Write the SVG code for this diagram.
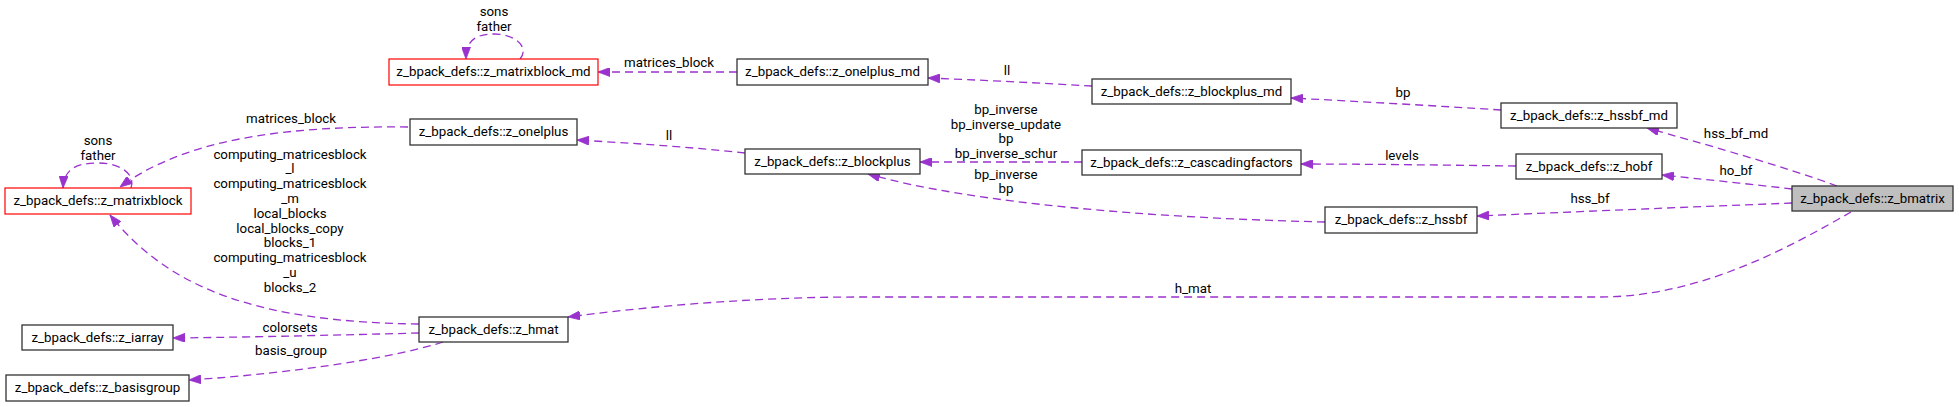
<svg xmlns="http://www.w3.org/2000/svg" width="1959" height="407" viewBox="0 0 1959 407">
<style>
  .node rect { fill: #ffffff; stroke: #333333; stroke-width: 1.3; }
  .node.trunc rect { stroke: #ff0000; stroke-width: 1.2; }
  .node.main rect { fill: #bfbfbf; }
  text { font-family: Roboto, "Liberation Sans", sans-serif; font-size: 13.3px; fill: #000000; text-anchor: middle; }
  .edges path { fill: none; stroke: #9a32cd; stroke-width: 1.3; stroke-dasharray: 8,5; }
</style>
<defs>
  <marker id="arr" viewBox="0 0 12 9" refX="12" refY="4.5" markerUnits="userSpaceOnUse" markerWidth="12" markerHeight="9" orient="auto">
    <path d="M0,0 L12,4.5 L0,9 z" fill="#9a32cd" stroke="#9a32cd" stroke-width="0.8"/>
  </marker>
</defs>
<rect x="0" y="0" width="1959" height="407" fill="#ffffff"/>

<g id="edges" class="edges">
  <path d="M737,72 L598,72" marker-end="url(#arr)"/>
  <path d="M1092,86 C1040,83 980,80 928,78" marker-end="url(#arr)"/>
  <path d="M1501,110 C1440,106 1350,101 1291,98" marker-end="url(#arr)"/>
  <path d="M408,127 C300,126 190,135 120,187" marker-end="url(#arr)"/>
  <path d="M131,188 C136,174 120,163 98,163 C78,163 64,168 63,188" marker-end="url(#arr)"/>
  <path d="M520,59 C530,47 515,34 494,34 C475,34 466,41 466,59" marker-end="url(#arr)"/>
  <path d="M745,153 C690,147 630,143 577,140" marker-end="url(#arr)"/>
  <path d="M1082,162 L920,162" marker-end="url(#arr)"/>
  <path d="M1325,222 C1150,218 970,203 868,174" marker-end="url(#arr)"/>
  <path d="M1516,166 C1440,165 1360,164 1301,164" marker-end="url(#arr)"/>
  <path d="M1837,186 C1780,165 1700,143 1647,128" marker-end="url(#arr)"/>
  <path d="M1792,189 C1750,184 1700,179 1662,175" marker-end="url(#arr)"/>
  <path d="M1792,203 C1690,207 1570,212 1477,216" marker-end="url(#arr)"/>
  <path d="M1851,212 C1790,247 1700,297 1600,297 L860,297 C760,297 660,305 568,317" marker-end="url(#arr)"/>
  <path d="M419,324 C260,322 170,290 110,215" marker-end="url(#arr)"/>
  <path d="M419,333 C340,335 260,337 173,338" marker-end="url(#arr)"/>
  <path d="M443,342 C400,356 300,373 189,380" marker-end="url(#arr)"/>
</g>

<g id="edge-labels">
  <text x="669" y="67">matrices_block</text>
  <text x="1007" y="75">ll</text>
  <text x="1403" y="97">bp</text>
  <text x="291" y="123">matrices_block</text>
  <text x="98" y="145">sons</text>
  <text x="98" y="160">father</text>
  <text x="494" y="16">sons</text>
  <text x="494" y="31">father</text>
  <text x="669" y="140">ll</text>
  <text x="1006" y="114">bp_inverse</text>
  <text x="1006" y="129">bp_inverse_update</text>
  <text x="1006" y="143">bp</text>
  <text x="1006" y="158">bp_inverse_schur</text>
  <text x="1006" y="179">bp_inverse</text>
  <text x="1006" y="193">bp</text>
  <text x="1402" y="160">levels</text>
  <text x="1736" y="138">hss_bf_md</text>
  <text x="1736" y="175">ho_bf</text>
  <text x="1590" y="203">hss_bf</text>
  <text x="1193" y="293">h_mat</text>
  <text x="290" y="159">computing_matricesblock</text>
  <text x="290" y="173">_l</text>
  <text x="290" y="188">computing_matricesblock</text>
  <text x="290" y="203">_m</text>
  <text x="290" y="218">local_blocks</text>
  <text x="290" y="233">local_blocks_copy</text>
  <text x="290" y="247">blocks_1</text>
  <text x="290" y="262">computing_matricesblock</text>
  <text x="290" y="277">_u</text>
  <text x="290" y="292">blocks_2</text>
  <text x="290" y="332">colorsets</text>
  <text x="291" y="355">basis_group</text>
</g>

<g id="n_matrixblock_md" class="node trunc"><rect x="389" y="59" width="209" height="26"/><text x="493.5" y="76">z_bpack_defs::z_matrixblock_md</text></g>
<g id="n_onelplus_md" class="node"><rect x="737" y="59" width="191" height="26"/><text x="832.5" y="76">z_bpack_defs::z_onelplus_md</text></g>
<g id="n_blockplus_md" class="node"><rect x="1092" y="79" width="199" height="25"/><text x="1191.5" y="96">z_bpack_defs::z_blockplus_md</text></g>
<g id="n_hssbf_md" class="node"><rect x="1501" y="103" width="176" height="25"/><text x="1589" y="120">z_bpack_defs::z_hssbf_md</text></g>
<g id="n_onelplus" class="node"><rect x="410" y="119" width="167" height="26"/><text x="493.5" y="136">z_bpack_defs::z_onelplus</text></g>
<g id="n_blockplus" class="node"><rect x="745" y="149" width="175" height="25"/><text x="832.5" y="166">z_bpack_defs::z_blockplus</text></g>
<g id="n_cascadingfactors" class="node"><rect x="1082" y="150" width="219" height="25"/><text x="1191.5" y="167">z_bpack_defs::z_cascadingfactors</text></g>
<g id="n_hobf" class="node"><rect x="1516" y="154" width="146" height="25"/><text x="1589" y="171">z_bpack_defs::z_hobf</text></g>
<g id="n_matrixblock" class="node trunc"><rect x="5" y="188" width="186" height="26"/><text x="98" y="205">z_bpack_defs::z_matrixblock</text></g>
<g id="n_hssbf" class="node"><rect x="1325" y="207" width="152" height="26"/><text x="1401" y="224">z_bpack_defs::z_hssbf</text></g>
<g id="n_bmatrix" class="node main"><rect x="1792" y="186" width="161" height="25"/><text x="1872.5" y="203">z_bpack_defs::z_bmatrix</text></g>
<g id="n_hmat" class="node"><rect x="419" y="317" width="149" height="25"/><text x="493.5" y="334">z_bpack_defs::z_hmat</text></g>
<g id="n_iarray" class="node"><rect x="22" y="325" width="151" height="25"/><text x="97.5" y="342">z_bpack_defs::z_iarray</text></g>
<g id="n_basisgroup" class="node"><rect x="6" y="375" width="183" height="26"/><text x="97.5" y="392">z_bpack_defs::z_basisgroup</text></g>
</svg>
